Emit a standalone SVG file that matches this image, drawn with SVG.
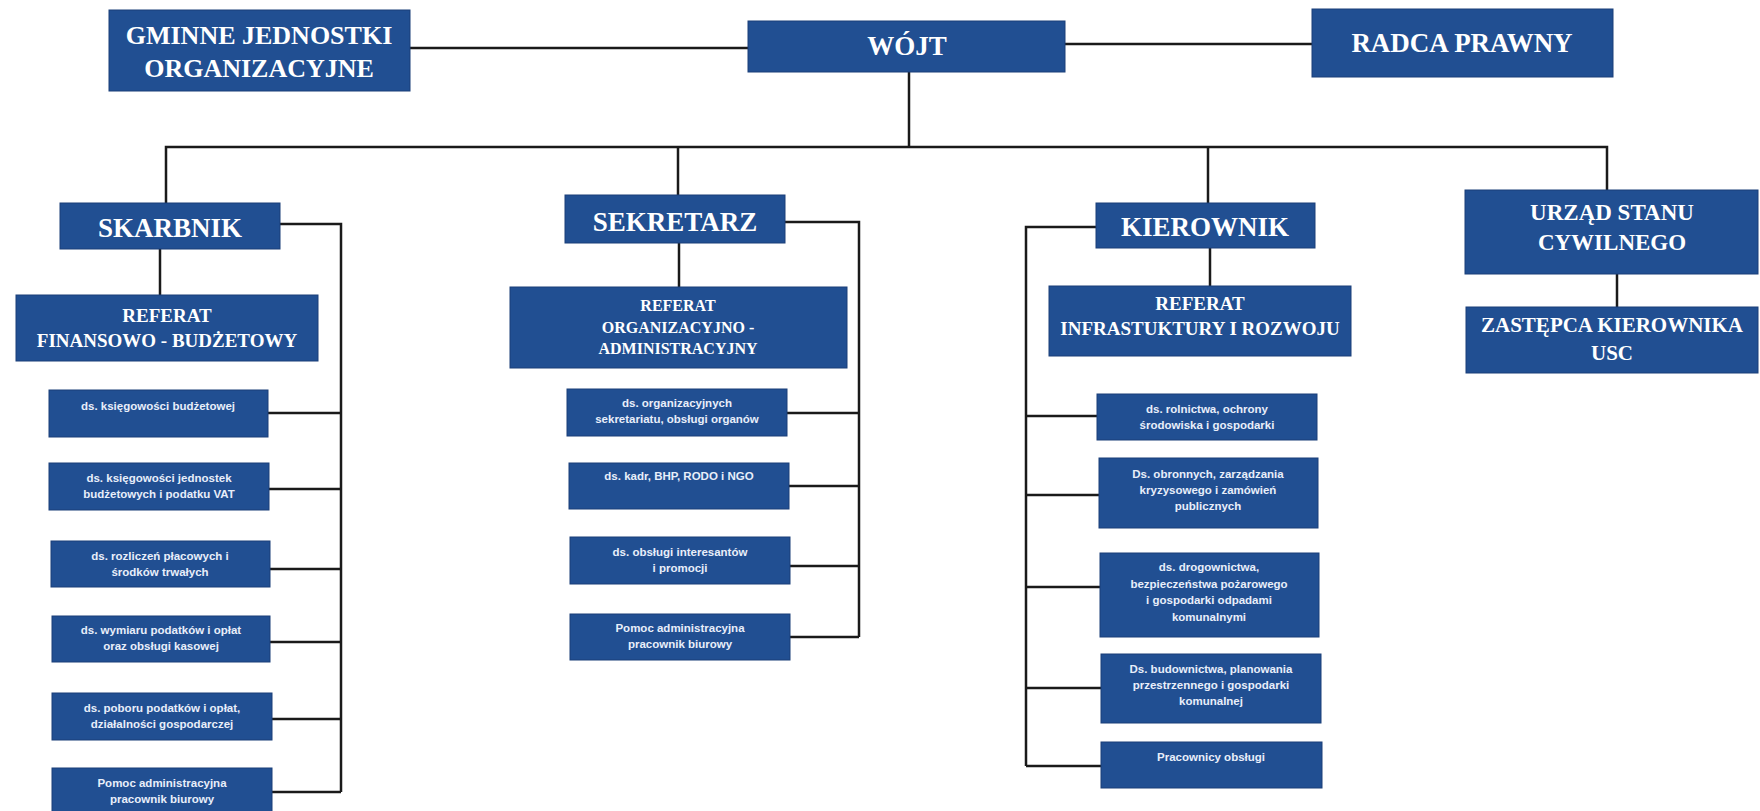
<svg xmlns="http://www.w3.org/2000/svg" width="1760" height="811" viewBox="0 0 1760 811">
<style>
.b{fill:#214f92;stroke:#1a3f78;stroke-width:1}
.t{font-family:"Liberation Serif",serif;font-weight:bold;fill:#ffffff;text-anchor:middle}
.s{font-family:"Liberation Sans",sans-serif;font-weight:bold;font-size:11.5px;fill:#e8eefa;text-anchor:middle}
.c{fill:none;stroke:#1a1a1a;stroke-width:2.5}
</style>
<rect width="1760" height="811" fill="#ffffff"/>
<g id="connectors">
<path class="c" d="M410 48H748"/>
<path class="c" d="M1065 44H1312"/>
<path class="c" d="M909 72V147"/>
<path class="c" d="M166 203V147H1607V190"/>
<path class="c" d="M678 147V195"/>
<path class="c" d="M1208 147V203"/>
<path class="c" d="M160 249V295"/>
<path class="c" d="M280 224H341V792"/>
<path class="c" d="M268 413H341M269 489H341M270 569H341M270 642H341M272 719H341M272 792H341"/>
<path class="c" d="M679 243V287"/>
<path class="c" d="M785 222H859V637"/>
<path class="c" d="M787 413H859M789 486H859M790 566H859M790 637H859"/>
<path class="c" d="M1210 248V286"/>
<path class="c" d="M1096 227H1026V766"/>
<path class="c" d="M1026 416H1097M1026 495H1099M1026 587H1100M1026 688H1101M1026 766H1101"/>
<path class="c" d="M1617 274V307"/>
</g>
<g id="gminne"><rect class="b" x="109" y="10" width="301" height="81"/>
<text class="t" x="259" y="44" font-size="26">GMINNE JEDNOSTKI</text>
<text class="t" x="259" y="77" font-size="26">ORGANIZACYJNE</text></g>
<g id="wojt"><rect class="b" x="748" y="21" width="317" height="51"/>
<text class="t" x="907" y="55" font-size="27">WÓJT</text></g>
<g id="radca"><rect class="b" x="1312" y="9" width="301" height="68"/>
<text class="t" x="1462" y="52" font-size="27">RADCA PRAWNY</text></g>
<g id="skarbnik"><rect class="b" x="60" y="203" width="220" height="46"/>
<text class="t" x="170" y="237" font-size="27">SKARBNIK</text></g>
<g id="sekretarz"><rect class="b" x="565" y="195" width="220" height="48"/>
<text class="t" x="675" y="231" font-size="27">SEKRETARZ</text></g>
<g id="kierownik"><rect class="b" x="1096" y="203" width="219" height="45"/>
<text class="t" x="1205" y="236" font-size="27">KIEROWNIK</text></g>
<g id="usc"><rect class="b" x="1465" y="190" width="293" height="84"/>
<text class="t" x="1612" y="220" font-size="23">URZĄD STANU</text>
<text class="t" x="1612" y="250" font-size="23">CYWILNEGO</text></g>
<g id="zastepca"><rect class="b" x="1466" y="307" width="292" height="66"/>
<text class="t" x="1612" y="332" font-size="21">ZASTĘPCA KIEROWNIKA</text>
<text class="t" x="1612" y="360" font-size="21">USC</text></g>
<g id="ref-fin"><rect class="b" x="16" y="295" width="302" height="66"/>
<text class="t" x="167" y="322" font-size="19">REFERAT</text>
<text class="t" x="167" y="347" font-size="19">FINANSOWO - BUDŻETOWY</text></g>
<g id="ref-org"><rect class="b" x="510" y="287" width="337" height="81"/>
<text class="t" x="678" y="311" font-size="16">REFERAT</text>
<text class="t" x="678" y="333" font-size="16">ORGANIZACYJNO -</text>
<text class="t" x="678" y="354" font-size="16">ADMINISTRACYJNY</text></g>
<g id="ref-inf"><rect class="b" x="1049" y="286" width="302" height="70"/>
<text class="t" x="1200" y="310" font-size="19">REFERAT</text>
<text class="t" x="1200" y="335" font-size="19">INFRASTUKTURY I ROZWOJU</text></g>
<g id="s1"><rect class="b" x="49" y="390" width="219" height="47"/>
<text class="s" x="158" y="410">ds. księgowości budżetowej</text></g>
<g id="s2"><rect class="b" x="49" y="463" width="220" height="47"/>
<text class="s" x="159" y="482">ds. księgowości jednostek</text>
<text class="s" x="159" y="498">budżetowych i podatku VAT</text></g>
<g id="s3"><rect class="b" x="51" y="541" width="219" height="46"/>
<text class="s" x="160" y="560">ds. rozliczeń płacowych i</text>
<text class="s" x="160" y="576">środków trwałych</text></g>
<g id="s4"><rect class="b" x="52" y="616" width="218" height="46"/>
<text class="s" x="161" y="634">ds. wymiaru podatków i opłat</text>
<text class="s" x="161" y="650">oraz obsługi kasowej</text></g>
<g id="s5"><rect class="b" x="52" y="693" width="220" height="47"/>
<text class="s" x="162" y="712">ds. poboru podatków i opłat,</text>
<text class="s" x="162" y="728">działalności gospodarczej</text></g>
<g id="s6"><rect class="b" x="52" y="768" width="220" height="46"/>
<text class="s" x="162" y="787">Pomoc administracyjna</text>
<text class="s" x="162" y="803">pracownik biurowy</text></g>
<g id="o1"><rect class="b" x="567" y="389" width="220" height="47"/>
<text class="s" x="677" y="407">ds. organizacyjnych</text>
<text class="s" x="677" y="423">sekretariatu, obsługi organów</text></g>
<g id="o2"><rect class="b" x="569" y="463" width="220" height="46"/>
<text class="s" x="679" y="480">ds. kadr, BHP, RODO i NGO</text></g>
<g id="o3"><rect class="b" x="570" y="537" width="220" height="47"/>
<text class="s" x="680" y="556">ds. obsługi interesantów</text>
<text class="s" x="680" y="572">i promocji</text></g>
<g id="o4"><rect class="b" x="570" y="614" width="220" height="46"/>
<text class="s" x="680" y="632">Pomoc administracyjna</text>
<text class="s" x="680" y="648">pracownik biurowy</text></g>
<g id="k1"><rect class="b" x="1097" y="394" width="220" height="46"/>
<text class="s" x="1207" y="413">ds. rolnictwa, ochrony</text>
<text class="s" x="1207" y="429">środowiska i gospodarki</text></g>
<g id="k2"><rect class="b" x="1099" y="458" width="219" height="70"/>
<text class="s" x="1208" y="478">Ds. obronnych, zarządzania</text>
<text class="s" x="1208" y="494">kryzysowego i zamówień</text>
<text class="s" x="1208" y="510">publicznych</text></g>
<g id="k3"><rect class="b" x="1100" y="553" width="219" height="84"/>
<text class="s" x="1209" y="571">ds. drogownictwa,</text>
<text class="s" x="1209" y="588">bezpieczeństwa pożarowego</text>
<text class="s" x="1209" y="604">i gospodarki odpadami</text>
<text class="s" x="1209" y="621">komunalnymi</text></g>
<g id="k4"><rect class="b" x="1101" y="654" width="220" height="69"/>
<text class="s" x="1211" y="673">Ds. budownictwa, planowania</text>
<text class="s" x="1211" y="689">przestrzennego i gospodarki</text>
<text class="s" x="1211" y="705">komunalnej</text></g>
<g id="k5"><rect class="b" x="1101" y="742" width="221" height="46"/>
<text class="s" x="1211" y="761">Pracownicy obsługi</text></g>
</svg>
